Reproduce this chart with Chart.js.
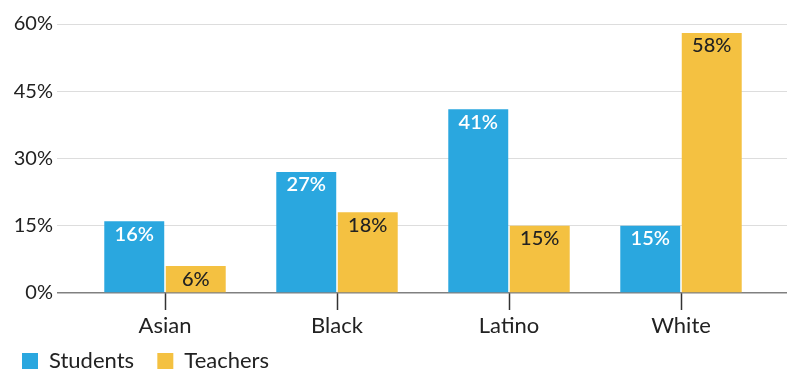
<!DOCTYPE html>
<html>
<head>
<meta charset="utf-8">
<script src="https://cdn.jsdelivr.net/npm/chart.js@4/dist/chart.umd.min.js"></script>
<style>
  html, body { margin: 0; padding: 0; background: #fff; }
  #wrap { width: 800px; height: 388px; }
</style>
</head>
<body>
<div id="wrap"><canvas id="chart"></canvas></div>
<script>
// chart data
const categories = ['Asian', 'Black', 'Latino', 'White'];
const students = [16, 27, 41, 15];
const teachers = [6, 18, 15, 58];
const yTicks = [0, 15, 30, 45, 60];

const BLUE = '#2aa7df';
const YELLOW = '#f4c141';
const FONT = 'Lato, "Noto Sans", sans-serif';

// draw the value labels just inside the top of each bar
const valueLabels = {
  id: 'valueLabels',
  afterDatasetsDraw(chart) {
    const ctx = chart.ctx;
    ctx.save();
    ctx.textAlign = 'center';
    ctx.textBaseline = 'middle';
    chart.data.datasets.forEach((ds, i) => {
      ctx.font = (i === 0 ? '600' : '500') + ' 20px ' + FONT;
      ctx.fillStyle = i === 0 ? '#ffffff' : '#222222';
      chart.getDatasetMeta(i).data.forEach((bar, j) => {
        ctx.fillText(ds.data[j] + '%', bar.x, bar.y + 13);
      });
    });
    ctx.restore();
  }
};

const gridColor = c => (c.tick && c.tick.value === 0) ? '#808080' : '#dddddd';
const gridWidth = c => (c.tick && c.tick.value === 0) ? 1.5 : 1;

new Chart(document.getElementById('chart'), {
  type: 'bar',
  data: {
    labels: categories,
    datasets: [
      { label: 'Students', data: students, backgroundColor: BLUE },
      { label: 'Teachers', data: teachers, backgroundColor: YELLOW }
    ]
  },
  options: {
    responsive: true,
    maintainAspectRatio: false,
    animation: false,
    layout: { padding: { top: 24, right: 13, bottom: 6, left: 10 } },
    datasets: { bar: { categoryPercentage: 0.715, barPercentage: 0.975 } },
    scales: {
      x: {
        grid: { offset: false, drawOnChartArea: false, drawTicks: true, tickLength: 17, tickColor: '#333', tickWidth: 1.5 },
        border: { display: false },
        ticks: { color: '#222', font: { family: FONT, size: 22 }, padding: 3 },
        afterFit(scale) { scale.height = 45; }
      },
      y: {
        min: 0, max: 60,
        afterBuildTicks(scale) { scale.ticks = yTicks.map(v => ({ value: v })); },
        grid: { color: gridColor, lineWidth: gridWidth, drawTicks: true, tickLength: 22 },
        border: { display: false },
        ticks: { color: '#222', font: { family: FONT, size: 20 }, padding: 4, callback: v => v + '%' },
        afterFit(scale) { scale.width = 69; }
      },
      y2: {
        position: 'right',
        min: 0, max: 60,
        afterBuildTicks(scale) { scale.ticks = yTicks.map(v => ({ value: v })); },
        grid: { color: gridColor, lineWidth: gridWidth, drawOnChartArea: false, drawTicks: true, tickLength: 20 },
        border: { display: false },
        ticks: { display: false },
        afterFit(scale) { scale.width = 20; }
      }
    },
    plugins: {
      legend: {
        position: 'bottom',
        align: 'start',
        labels: {
          boxWidth: 16, boxHeight: 16, padding: 12, color: '#222', font: { family: FONT, size: 22 },
          // a little extra room after each label, as in the original legend
          generateLabels(chart) {
            return Chart.defaults.plugins.legend.labels.generateLabels(chart).map(l => ({ ...l, text: l.text + '  ' }));
          }
        }
      },
      tooltip: { enabled: false }
    }
  },
  plugins: [valueLabels]
});
</script>
</body>
</html>
